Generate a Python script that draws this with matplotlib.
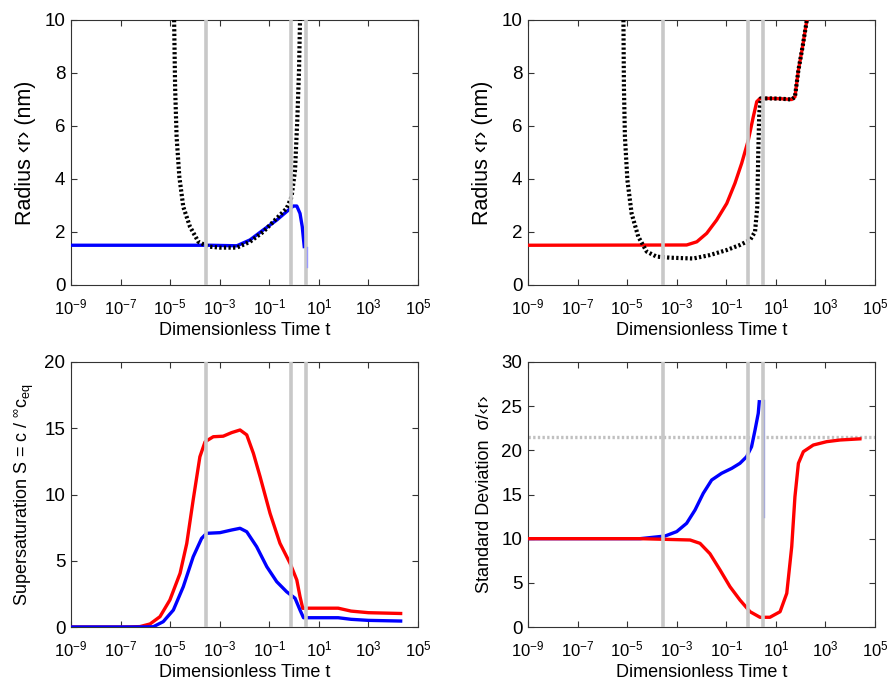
import matplotlib
matplotlib.use("Agg")
import matplotlib.pyplot as plt
from matplotlib.ticker import NullLocator

plt.rcParams['font.family'] = ['Liberation Sans', 'DejaVu Sans']
plt.rcParams['mathtext.fontset'] = 'custom'
plt.rcParams['mathtext.rm'] = 'Liberation Sans'
plt.rcParams['mathtext.it'] = 'Liberation Sans:italic'
plt.rcParams['mathtext.sf'] = 'Liberation Sans'

# ---- data (log10 of dimensionless time, values) ----
markers_logt = [-3.54, -0.11, 0.48]

# top-left: mean radius (blue) and critical radius (black dotted)
tl_blue_logt = [-9, -3.4, -2.31, -1.78, -1.24, -0.70, -0.30, -0.03, 0.11, 0.24, 0.33, 0.41]
tl_blue_val = [1.5, 1.5, 1.48, 1.7, 2.08, 2.45, 2.77, 2.98, 2.98, 2.7, 2.2, 1.45]
tl_blue_tail_logt = [0.53, 0.53]
tl_blue_tail_val = [1.45, 0.69]
tl_crit_logt = [-4.84, -4.80, -4.74, -4.63, -4.47, -4.20, -3.86, -3.46, -2.99, -2.31, -1.78, -1.24,
                -0.70, -0.30, -0.10, 0.04, 0.13, 0.20, 0.24]
tl_crit_val = [10, 7.48, 5.6, 4.09, 2.95, 2.2, 1.63, 1.45, 1.41, 1.41, 1.63, 2.01,
               2.52, 2.89, 3.33, 4.34, 6.23, 8.11, 10]

# top-right: mean radius (red) and critical radius (black dotted)
tr_red_logt = [-9, -2.60, -2.19, -1.79, -1.39, -0.98, -0.65, -0.38, -0.11, 0.09, 0.23, 0.36,
               0.8, 1.2, 1.64, 1.77, 1.91, 2.08, 2.25]
tr_red_val = [1.5, 1.51, 1.63, 1.95, 2.45, 3.08, 3.84, 4.59, 5.47, 6.35, 6.92, 7.04,
              7.04, 7.03, 7.0, 7.1, 8.11, 9.0, 10]
tr_crit_logt = [-5.15, -5.13, -5.09, -4.99, -4.82, -4.55, -4.21, -3.81, -3.27, -2.33, -1.66, -0.98,
                -0.45, -0.04, 0.16, 0.25, 0.29, 0.33, 0.39, 0.8, 1.2, 1.64, 1.77, 1.91, 2.08, 2.25]
tr_crit_val = [10, 7.48, 5.6, 3.96, 2.7, 1.82, 1.26, 1.07, 1.03, 1.0, 1.13, 1.32,
               1.51, 1.70, 2.01, 2.95, 4.97, 6.48, 7.04, 7.04, 7.03, 7.0, 7.1, 8.11, 9.0, 10]

# bottom-left: supersaturation
bl_red_logt = [-9, -7, -6.6, -6.22, -5.81, -5.41, -5.01, -4.60, -4.33, -4.07, -3.80, -3.59, -3.26,
               -2.86, -2.52, -2.18, -1.91, -1.64, -1.37, -0.97, -0.57, -0.16, 0.11, 0.24, 0.35,
               0.6, 1.0, 1.78, 2.3, 3.0, 4.3]
bl_red_val = [0, 0, 0.01, 0.03, 0.23, 0.78, 2.04, 4.05, 6.3, 9.6, 12.85, 13.98, 14.36,
              14.4, 14.67, 14.87, 14.5, 13.1, 11.34, 8.58, 6.32, 4.8, 3.55, 2.29, 1.41,
              1.42, 1.42, 1.42, 1.2, 1.08, 1.02]
bl_blue_logt = [-9, -6.5, -6.0, -5.68, -5.28, -4.87, -4.47, -4.07, -3.73, -3.53, -2.99, -2.52,
                -2.18, -1.91, -1.51, -1.10, -0.70, -0.30, 0.04, 0.24, 0.38, 0.6, 1.0, 1.78,
                2.3, 3.0, 4.3]
bl_blue_val = [0, 0, 0.005, 0.02, 0.4, 1.28, 3.04, 5.3, 6.69, 7.07, 7.12, 7.32,
               7.45, 7.19, 6.06, 4.55, 3.42, 2.66, 2.17, 1.28, 0.7, 0.7, 0.7, 0.7,
               0.58, 0.5, 0.45]

# bottom-right: standard deviation
br_red_logt = [-9, -4.48, -2.46, -2.06, -1.66, -1.25, -0.85, -0.45, -0.04, 0.36, 0.76, 1.17,
               1.44, 1.64, 1.77, 1.91, 2.11, 2.51, 3.05, 3.59, 4.39]
br_red_val = [10, 10, 9.85, 9.47, 8.3, 6.45, 4.56, 3.06, 1.73, 1.10, 1.10, 1.73,
              3.81, 9.09, 14.75, 18.53, 19.85, 20.6, 20.98, 21.17, 21.3]
br_blue_logt = [-9, -4.48, -3.47, -3.0, -2.60, -2.26, -1.93, -1.59, -1.19, -0.78, -0.45, -0.18,
                0.02, 0.16, 0.29, 0.33]
br_blue_val = [10, 10, 10.3, 10.8, 11.74, 13.25, 15.13, 16.64, 17.4, 17.96, 18.53, 19.28,
               20.41, 22.3, 24.19, 25.5]
br_blue_tail_logt = [0.54, 0.54]
br_blue_tail_val = [25.7, 12.5]
br_limit = 21.47

xticks_exp = [-9, -7, -5, -3, -1, 1, 3, 5]


def T(logs):
    return [10.0 ** v for v in logs]


fig = plt.figure(figsize=(8.9, 6.81), dpi=100)
W, H = 890, 681


def make_ax(x0, y0, x1, y1):
    return fig.add_axes([x0 / W, 1 - y1 / H, (x1 - x0) / W, (y1 - y0) / H])


ax_tl = make_ax(71, 20, 418, 285)
ax_tr = make_ax(528, 20, 875, 285)
ax_bl = make_ax(71, 362, 418, 627)
ax_br = make_ax(528, 362, 875, 627)

BLUE = '#0000ff'
RED = '#ff0000'
GRAY = '#c8c8c8'
LW = 2.4
DOT = dict(color='black', lw=3.0, ls=(0, (0.55, 0.55)), zorder=4)


def style(ax, ymax, ystep, ylabel, ylsize=13):
    ax.set_xscale('log')
    ax.set_xlim(1e-9, 1e5)
    ax.set_ylim(0, ymax)
    ax.set_xticks([10.0 ** e for e in xticks_exp])
    ax.set_xticklabels([r'$10^{%d}$' % e for e in xticks_exp])
    ax.xaxis.set_minor_locator(NullLocator())
    ax.set_yticks(list(range(0, ymax + 1, ystep)))
    ax.tick_params(direction='in', top=True, right=True, length=4, width=0.8,
                   color='#333333')
    ax.tick_params(axis='x', labelsize=12, pad=9)
    ax.tick_params(axis='y', labelsize=13.5, pad=4)
    ax.set_xlabel('Dimensionless Time t', fontsize=13, labelpad=3)
    ax.set_ylabel(ylabel, fontsize=ylsize, labelpad=6)
    for s in ax.spines.values():
        s.set_linewidth(0.8)
        s.set_color('#333333')
    for m in markers_logt:
        ax.axvline(10.0 ** m, color=GRAY, lw=2.6, zorder=5)


# top-left
ax = ax_tl
ax.plot(T(tl_blue_logt), tl_blue_val, color=BLUE, lw=LW, zorder=3)
ax.plot(T(tl_blue_tail_logt), tl_blue_tail_val, color='#9a9aff', lw=1.0, zorder=6)
ax.plot(T(tl_crit_logt), tl_crit_val, **DOT)
style(ax, 10, 2, 'Radius ‹r› (nm)', ylsize=15.5)

# top-right
ax = ax_tr
ax.plot(T(tr_red_logt), tr_red_val, color=RED, lw=LW, zorder=3)
ax.plot(T(tr_crit_logt), tr_crit_val, **DOT)
style(ax, 10, 2, 'Radius ‹r› (nm)', ylsize=15.5)

# bottom-left
ax = ax_bl
ax.plot(T(bl_red_logt), bl_red_val, color=RED, lw=LW, zorder=3)
ax.plot(T(bl_blue_logt), bl_blue_val, color=BLUE, lw=LW, zorder=3)
style(ax, 20, 5, r'Supersaturation S = c / $^{\infty}$c$_{\rm eq}$')

# bottom-right
ax = ax_br
ax.plot(T(br_blue_logt), br_blue_val, color=BLUE, lw=LW, zorder=3)
ax.plot(T(br_blue_tail_logt), br_blue_tail_val, color='#a8acd8', lw=1.0, zorder=6)
ax.plot(T(br_red_logt), br_red_val, color=RED, lw=LW, zorder=3)
ax.axhline(br_limit, color='#c0c0c0', lw=2.4, ls=(0, (0.7, 0.7)), zorder=2)
style(ax, 30, 5, 'Standard Deviation  σ/‹r›')

fig.savefig('out.png', dpi=100)
